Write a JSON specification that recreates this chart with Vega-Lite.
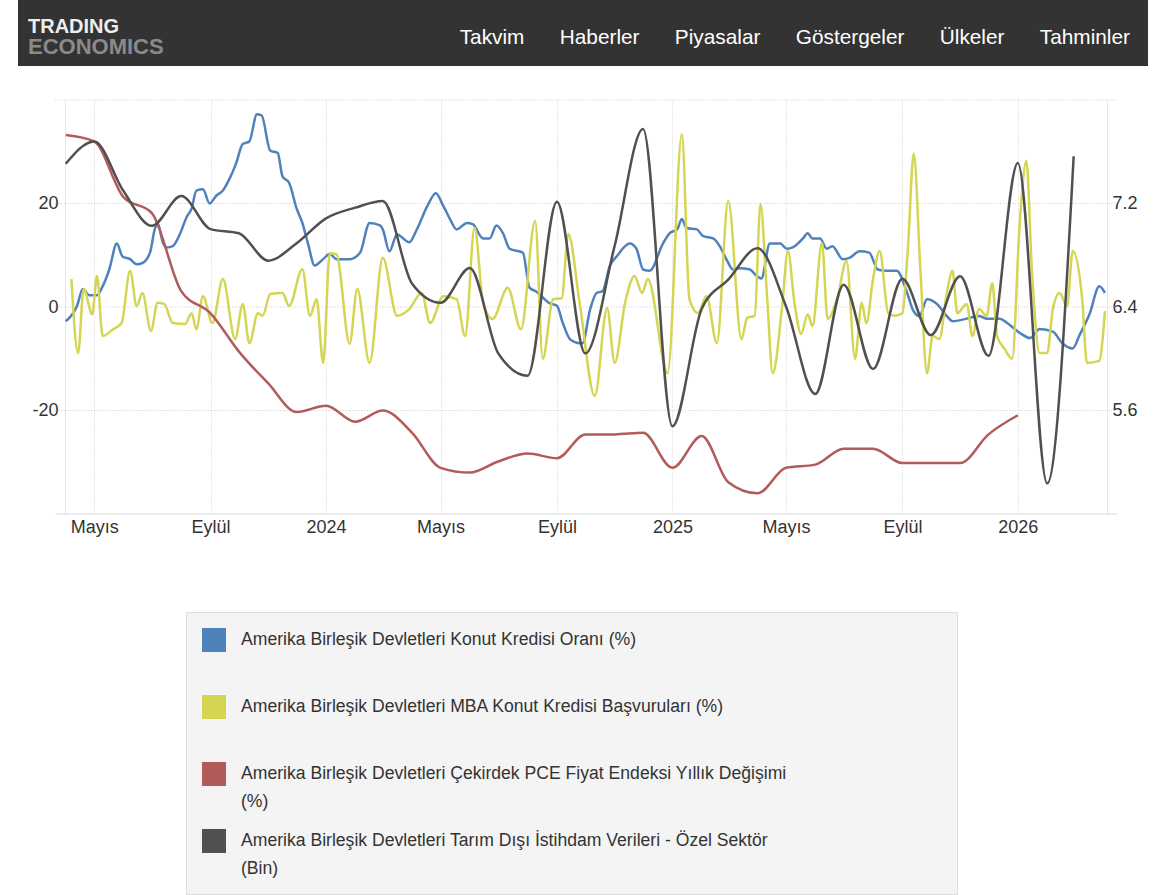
{
  "$schema": "https://vega.github.io/schema/vega-lite/v6.json",
  "background": "#ffffff",
  "padding": {"left": 18, "top": 0, "right": 0, "bottom": 0},
  "spacing": 32,
  "config": {
    "font": "Liberation Sans",
    "axis": {"labelFont": "Liberation Sans", "labelFontSize": 18, "labelColor": "#333333", "domain": false, "ticks": false, "tickSize": 0, "title": null, "gridColor": "#d0d0d0", "gridDash": [1, 2], "gridWidth": 1}
  },
  "datasets": {
    "rate": [
      {"date": "2023-04-01", "v": 6.29}, {"date": "2023-04-13", "v": 6.41}, {"date": "2023-04-19", "v": 6.54}, {"date": "2023-04-26", "v": 6.49},
      {"date": "2023-05-04", "v": 6.49}, {"date": "2023-05-10", "v": 6.56}, {"date": "2023-05-17", "v": 6.69}, {"date": "2023-05-25", "v": 6.89},
      {"date": "2023-05-31", "v": 6.79}, {"date": "2023-06-08", "v": 6.77}, {"date": "2023-06-15", "v": 6.73}, {"date": "2023-06-21", "v": 6.74},
      {"date": "2023-06-29", "v": 6.82}, {"date": "2023-07-04", "v": 7.0}, {"date": "2023-07-07", "v": 7.05}, {"date": "2023-07-13", "v": 6.89},
      {"date": "2023-07-17", "v": 6.86}, {"date": "2023-07-23", "v": 6.87}, {"date": "2023-07-31", "v": 6.97}, {"date": "2023-08-07", "v": 7.1},
      {"date": "2023-08-12", "v": 7.16}, {"date": "2023-08-17", "v": 7.3}, {"date": "2023-08-24", "v": 7.31}, {"date": "2023-08-31", "v": 7.2},
      {"date": "2023-09-07", "v": 7.26}, {"date": "2023-09-14", "v": 7.3}, {"date": "2023-09-21", "v": 7.39}, {"date": "2023-09-28", "v": 7.51},
      {"date": "2023-10-05", "v": 7.66}, {"date": "2023-10-12", "v": 7.68}, {"date": "2023-10-20", "v": 7.89}, {"date": "2023-10-25", "v": 7.88},
      {"date": "2023-11-03", "v": 7.61}, {"date": "2023-11-11", "v": 7.59}, {"date": "2023-11-16", "v": 7.41}, {"date": "2023-11-23", "v": 7.36},
      {"date": "2023-12-01", "v": 7.16}, {"date": "2023-12-07", "v": 7.05}, {"date": "2023-12-13", "v": 6.89}, {"date": "2023-12-20", "v": 6.72},
      {"date": "2023-12-29", "v": 6.77}, {"date": "2024-01-05", "v": 6.81}, {"date": "2024-01-12", "v": 6.77}, {"date": "2024-01-26", "v": 6.77},
      {"date": "2024-02-06", "v": 6.82}, {"date": "2024-02-16", "v": 7.05}, {"date": "2024-02-27", "v": 7.03}, {"date": "2024-03-01", "v": 7.0},
      {"date": "2024-03-08", "v": 6.83}, {"date": "2024-03-16", "v": 6.96}, {"date": "2024-03-29", "v": 6.9}, {"date": "2024-04-06", "v": 7.0},
      {"date": "2024-04-17", "v": 7.18}, {"date": "2024-04-26", "v": 7.28}, {"date": "2024-05-04", "v": 7.18}, {"date": "2024-05-11", "v": 7.08},
      {"date": "2024-05-18", "v": 7.0}, {"date": "2024-05-29", "v": 7.05}, {"date": "2024-06-04", "v": 7.04}, {"date": "2024-06-15", "v": 6.93},
      {"date": "2024-06-22", "v": 6.93}, {"date": "2024-06-29", "v": 7.03}, {"date": "2024-07-06", "v": 6.97}, {"date": "2024-07-13", "v": 6.85},
      {"date": "2024-07-27", "v": 6.82}, {"date": "2024-08-03", "v": 6.55}, {"date": "2024-08-10", "v": 6.52}, {"date": "2024-08-24", "v": 6.43},
      {"date": "2024-09-01", "v": 6.41}, {"date": "2024-09-07", "v": 6.28}, {"date": "2024-09-15", "v": 6.15}, {"date": "2024-09-25", "v": 6.12},
      {"date": "2024-09-28", "v": 6.12}, {"date": "2024-10-06", "v": 6.38}, {"date": "2024-10-13", "v": 6.51}, {"date": "2024-10-19", "v": 6.52},
      {"date": "2024-10-27", "v": 6.72}, {"date": "2024-11-03", "v": 6.79}, {"date": "2024-11-17", "v": 6.89}, {"date": "2024-11-24", "v": 6.85},
      {"date": "2024-12-01", "v": 6.69}, {"date": "2024-12-08", "v": 6.68}, {"date": "2024-12-22", "v": 6.89}, {"date": "2024-12-29", "v": 6.97},
      {"date": "2025-01-06", "v": 7.0}, {"date": "2025-01-11", "v": 7.08}, {"date": "2025-01-16", "v": 7.01}, {"date": "2025-01-27", "v": 7.0},
      {"date": "2025-02-02", "v": 6.95}, {"date": "2025-02-13", "v": 6.93}, {"date": "2025-02-20", "v": 6.87}, {"date": "2025-02-27", "v": 6.77},
      {"date": "2025-03-06", "v": 6.69}, {"date": "2025-03-13", "v": 6.7}, {"date": "2025-03-24", "v": 6.69}, {"date": "2025-03-31", "v": 6.64},
      {"date": "2025-04-05", "v": 6.62}, {"date": "2025-04-14", "v": 6.89}, {"date": "2025-04-25", "v": 6.89}, {"date": "2025-05-02", "v": 6.85},
      {"date": "2025-05-08", "v": 6.86}, {"date": "2025-05-19", "v": 6.93}, {"date": "2025-05-24", "v": 6.97}, {"date": "2025-05-29", "v": 6.93},
      {"date": "2025-06-06", "v": 6.93}, {"date": "2025-06-13", "v": 6.85}, {"date": "2025-06-19", "v": 6.87}, {"date": "2025-06-30", "v": 6.77},
      {"date": "2025-07-07", "v": 6.78}, {"date": "2025-07-18", "v": 6.83}, {"date": "2025-07-28", "v": 6.82}, {"date": "2025-08-06", "v": 6.69},
      {"date": "2025-08-15", "v": 6.68}, {"date": "2025-08-26", "v": 6.68}, {"date": "2025-09-06", "v": 6.51}, {"date": "2025-09-12", "v": 6.38},
      {"date": "2025-09-19", "v": 6.33}, {"date": "2025-09-27", "v": 6.46}, {"date": "2025-10-08", "v": 6.42}, {"date": "2025-10-18", "v": 6.33},
      {"date": "2025-10-24", "v": 6.29}, {"date": "2025-11-08", "v": 6.31}, {"date": "2025-11-21", "v": 6.33}, {"date": "2025-11-29", "v": 6.31},
      {"date": "2025-12-13", "v": 6.31}, {"date": "2025-12-20", "v": 6.28}, {"date": "2026-01-03", "v": 6.2}, {"date": "2026-01-14", "v": 6.16},
      {"date": "2026-01-24", "v": 6.23}, {"date": "2026-02-07", "v": 6.21}, {"date": "2026-02-17", "v": 6.12}, {"date": "2026-02-28", "v": 6.08},
      {"date": "2026-03-07", "v": 6.18}, {"date": "2026-03-18", "v": 6.35}, {"date": "2026-03-28", "v": 6.56}, {"date": "2026-04-03", "v": 6.51}
    ],
    "mba": [
      {"date": "2023-04-07", "v": 5.4}, {"date": "2023-04-14", "v": -8.9}, {"date": "2023-04-20", "v": 3.5}, {"date": "2023-04-29", "v": -1.4},
      {"date": "2023-05-04", "v": 6.0}, {"date": "2023-05-10", "v": -5.6}, {"date": "2023-05-21", "v": -4.3}, {"date": "2023-05-30", "v": -3.1},
      {"date": "2023-06-08", "v": 7.0}, {"date": "2023-06-15", "v": 0.2}, {"date": "2023-06-21", "v": 2.7}, {"date": "2023-06-30", "v": -4.6},
      {"date": "2023-07-07", "v": 0.8}, {"date": "2023-07-14", "v": 0.6}, {"date": "2023-07-23", "v": -3.1}, {"date": "2023-08-05", "v": -3.3},
      {"date": "2023-08-12", "v": -1.2}, {"date": "2023-08-17", "v": -4.3}, {"date": "2023-08-24", "v": 2.1}, {"date": "2023-09-03", "v": -3.1},
      {"date": "2023-09-14", "v": 5.4}, {"date": "2023-09-27", "v": -6.2}, {"date": "2023-10-05", "v": 0.6}, {"date": "2023-10-12", "v": -7.0},
      {"date": "2023-10-21", "v": -1.2}, {"date": "2023-10-26", "v": -1.7}, {"date": "2023-11-03", "v": 2.5}, {"date": "2023-11-16", "v": 2.7},
      {"date": "2023-11-23", "v": 0.2}, {"date": "2023-12-07", "v": 7.3}, {"date": "2023-12-15", "v": -1.7}, {"date": "2023-12-22", "v": 1.5},
      {"date": "2023-12-29", "v": -10.8}, {"date": "2024-01-05", "v": 10.4}, {"date": "2024-01-12", "v": 10.2}, {"date": "2024-01-26", "v": -7.1},
      {"date": "2024-02-03", "v": 3.5}, {"date": "2024-02-16", "v": -10.8}, {"date": "2024-03-01", "v": 9.5}, {"date": "2024-03-16", "v": -1.7},
      {"date": "2024-03-29", "v": -0.4}, {"date": "2024-04-11", "v": 2.7}, {"date": "2024-04-20", "v": -3.1}, {"date": "2024-05-04", "v": 2.1},
      {"date": "2024-05-18", "v": 1.5}, {"date": "2024-05-27", "v": -5.6}, {"date": "2024-06-06", "v": 15.3}, {"date": "2024-06-15", "v": 0.8},
      {"date": "2024-06-25", "v": -2.3}, {"date": "2024-07-11", "v": 3.7}, {"date": "2024-07-25", "v": -4.3}, {"date": "2024-08-09", "v": 16.6},
      {"date": "2024-08-17", "v": -10.0}, {"date": "2024-08-28", "v": 1.5}, {"date": "2024-09-06", "v": 1.7}, {"date": "2024-09-13", "v": 14.1},
      {"date": "2024-09-25", "v": 0.8}, {"date": "2024-10-11", "v": -17.2}, {"date": "2024-10-24", "v": -0.2}, {"date": "2024-11-01", "v": -10.8},
      {"date": "2024-11-12", "v": 0.8}, {"date": "2024-11-22", "v": 6.0}, {"date": "2024-11-30", "v": 2.7}, {"date": "2024-12-06", "v": 5.4},
      {"date": "2024-12-27", "v": -12.8}, {"date": "2025-01-11", "v": 33.4}, {"date": "2025-01-19", "v": 1.5}, {"date": "2025-01-28", "v": -1.2},
      {"date": "2025-02-06", "v": 2.1}, {"date": "2025-02-17", "v": -7.0}, {"date": "2025-03-01", "v": 20.5}, {"date": "2025-03-15", "v": -6.2},
      {"date": "2025-03-21", "v": -2.1}, {"date": "2025-03-29", "v": -1.7}, {"date": "2025-04-04", "v": 19.9}, {"date": "2025-04-11", "v": 2.1},
      {"date": "2025-04-17", "v": -12.8}, {"date": "2025-04-27", "v": 0.2}, {"date": "2025-05-03", "v": 10.8}, {"date": "2025-05-10", "v": 0.8},
      {"date": "2025-05-17", "v": -5.2}, {"date": "2025-05-24", "v": -1.4}, {"date": "2025-05-29", "v": -3.7}, {"date": "2025-06-08", "v": 12.4},
      {"date": "2025-06-14", "v": -2.3}, {"date": "2025-06-24", "v": 1.5}, {"date": "2025-07-04", "v": 8.9}, {"date": "2025-07-13", "v": -10.0},
      {"date": "2025-07-20", "v": 0.8}, {"date": "2025-07-25", "v": -3.1}, {"date": "2025-08-01", "v": 5.4}, {"date": "2025-08-08", "v": 10.8},
      {"date": "2025-08-17", "v": -1.2}, {"date": "2025-08-24", "v": -1.7}, {"date": "2025-09-01", "v": -1.2}, {"date": "2025-09-07", "v": 11.8},
      {"date": "2025-09-13", "v": 29.6}, {"date": "2025-09-20", "v": 7.3}, {"date": "2025-09-27", "v": -12.8}, {"date": "2025-10-03", "v": -5.6},
      {"date": "2025-10-10", "v": -6.2}, {"date": "2025-10-18", "v": 2.7}, {"date": "2025-10-24", "v": 7.0}, {"date": "2025-10-29", "v": -1.2},
      {"date": "2025-11-08", "v": 0.6}, {"date": "2025-11-14", "v": -5.6}, {"date": "2025-11-21", "v": -0.4}, {"date": "2025-11-29", "v": -1.7},
      {"date": "2025-12-05", "v": 4.6}, {"date": "2025-12-10", "v": -5.6}, {"date": "2025-12-18", "v": -8.1}, {"date": "2025-12-26", "v": -10.0},
      {"date": "2026-01-03", "v": 16.2}, {"date": "2026-01-10", "v": 28.2}, {"date": "2026-01-16", "v": 6.6}, {"date": "2026-01-24", "v": -8.9},
      {"date": "2026-02-01", "v": -8.9}, {"date": "2026-02-07", "v": -0.4}, {"date": "2026-02-14", "v": 2.7}, {"date": "2026-02-22", "v": 0.2},
      {"date": "2026-02-28", "v": 10.8}, {"date": "2026-03-10", "v": 1.5}, {"date": "2026-03-15", "v": -10.8}, {"date": "2026-03-28", "v": -10.4},
      {"date": "2026-04-03", "v": -0.8}
    ],
    "pce": [
      {"date": "2023-04-01", "v": 4.63}, {"date": "2023-05-01", "v": 4.59}, {"date": "2023-06-01", "v": 4.24}, {"date": "2023-07-01", "v": 4.14},
      {"date": "2023-08-01", "v": 3.65}, {"date": "2023-09-01", "v": 3.51}, {"date": "2023-10-01", "v": 3.27}, {"date": "2023-11-01", "v": 3.07},
      {"date": "2023-12-01", "v": 2.89}, {"date": "2024-01-01", "v": 2.93}, {"date": "2024-02-01", "v": 2.83}, {"date": "2024-03-01", "v": 2.9},
      {"date": "2024-04-01", "v": 2.76}, {"date": "2024-05-01", "v": 2.54}, {"date": "2024-06-01", "v": 2.51}, {"date": "2024-07-01", "v": 2.58},
      {"date": "2024-08-01", "v": 2.63}, {"date": "2024-09-01", "v": 2.6}, {"date": "2024-10-01", "v": 2.75}, {"date": "2024-11-01", "v": 2.75},
      {"date": "2024-12-01", "v": 2.76}, {"date": "2025-01-01", "v": 2.54}, {"date": "2025-02-01", "v": 2.74}, {"date": "2025-03-01", "v": 2.45},
      {"date": "2025-04-01", "v": 2.38}, {"date": "2025-05-01", "v": 2.54}, {"date": "2025-06-01", "v": 2.56}, {"date": "2025-07-01", "v": 2.66},
      {"date": "2025-08-01", "v": 2.66}, {"date": "2025-09-01", "v": 2.57}, {"date": "2025-10-01", "v": 2.57}, {"date": "2025-11-01", "v": 2.57},
      {"date": "2025-12-01", "v": 2.75}, {"date": "2026-01-01", "v": 2.87}
    ],
    "nfp": [
      {"date": "2023-04-01", "v": 273}, {"date": "2023-05-01", "v": 300}, {"date": "2023-06-01", "v": 240}, {"date": "2023-07-01", "v": 198},
      {"date": "2023-08-01", "v": 234}, {"date": "2023-09-01", "v": 194}, {"date": "2023-10-01", "v": 189}, {"date": "2023-11-01", "v": 156},
      {"date": "2023-12-01", "v": 177}, {"date": "2024-01-01", "v": 207}, {"date": "2024-02-01", "v": 220}, {"date": "2024-03-01", "v": 228},
      {"date": "2024-04-01", "v": 128}, {"date": "2024-05-01", "v": 105}, {"date": "2024-06-01", "v": 147}, {"date": "2024-07-01", "v": 44},
      {"date": "2024-08-01", "v": 17}, {"date": "2024-09-01", "v": 227}, {"date": "2024-10-01", "v": 44}, {"date": "2024-11-01", "v": 174},
      {"date": "2024-12-01", "v": 315}, {"date": "2025-01-01", "v": -44}, {"date": "2025-02-01", "v": 98}, {"date": "2025-03-01", "v": 133},
      {"date": "2025-04-01", "v": 171}, {"date": "2025-05-01", "v": 101}, {"date": "2025-06-01", "v": -5}, {"date": "2025-07-01", "v": 127},
      {"date": "2025-08-01", "v": 25}, {"date": "2025-09-01", "v": 134}, {"date": "2025-10-01", "v": 66}, {"date": "2025-11-01", "v": 137},
      {"date": "2025-12-01", "v": 41}, {"date": "2026-01-01", "v": 274}, {"date": "2026-02-01", "v": -113}, {"date": "2026-03-01", "v": 282}
    ],
    "gridlines": [
      {"g": -20, "date": "2023-03-21"}, {"g": -20, "date": "2026-04-16"},
      {"g": 0, "date": "2023-03-21"}, {"g": 0, "date": "2026-04-16"},
      {"g": 20, "date": "2023-03-21"}, {"g": 20, "date": "2026-04-16"},
      {"g": 40, "date": "2023-03-21"}, {"g": 40, "date": "2026-04-16"}
    ],
    "baseline": [{"g": -40, "date": "2023-03-21"}, {"g": -40, "date": "2026-04-16"}]
  },
  "vconcat": [
    {
      "width": 1130,
      "height": 66,
      "view": {"fill": "#333333", "stroke": null},
      "title": {
        "text": "TRADING",
        "subtitle": "\u2002ECONOMICS",
        "anchor": "start",
        "frame": "group",
        "orient": "top",
        "offset": -58,
        "dx": 10,
        "font": "Liberation Sans",
        "fontSize": 20,
        "fontWeight": "bold",
        "color": "#eeeeee",
        "subtitleFont": "Liberation Sans",
        "subtitleFontSize": 22,
        "subtitleFontWeight": "bold",
        "subtitleColor": "#8a8a8a",
        "subtitlePadding": 0
      },
      "data": {"values": [{"nav": "Takvim\u2002\u2002\u2002\u2009Haberler\u2002\u2002\u2002\u2009Piyasalar\u2002\u2002\u2002\u2009Göstergeler\u2002\u2002\u2002\u2009Ülkeler\u2002\u2002\u2002\u2009Tahminler"}]},
      "mark": {"type": "text", "align": "right", "baseline": "alphabetic", "dx": -18, "dy": 11, "fontSize": 20.8, "color": "#ffffff", "font": "Liberation Sans"},
      "encoding": {"text": {"field": "nav"}, "x": {"value": "width"}}
    },
    {
      "width": 1089,
      "height": 414,
      "view": {"stroke": null},
      "encoding": {
        "x": {
          "field": "date",
          "type": "temporal",
          "scale": {"type": "utc", "range": [47, 1089], "domain": [{"year": 2023, "month": 3, "date": 31, "hours": 5, "utc": true}, {"year": 2026, "month": 4, "date": 5, "hours": 5, "utc": true}]},
          "axis": {
            "values": [
              {"year": 2023, "month": 5, "date": 1, "utc": true}, {"year": 2023, "month": 9, "date": 1, "utc": true},
              {"year": 2024, "month": 1, "date": 1, "utc": true}, {"year": 2024, "month": 5, "date": 1, "utc": true},
              {"year": 2024, "month": 9, "date": 1, "utc": true}, {"year": 2025, "month": 1, "date": 1, "utc": true},
              {"year": 2025, "month": 5, "date": 1, "utc": true}, {"year": 2025, "month": 9, "date": 1, "utc": true},
              {"year": 2026, "month": 1, "date": 1, "utc": true}
            ],
            "labelExpr": "utcmonth(datum.value) == 0 ? utcFormat(datum.value, '%Y') : (utcmonth(datum.value) == 4 ? 'Mayıs' : 'Eylül')",
            "grid": true,
            "labelPadding": 4,
            "labelAlign": "center",
            "labelFlush": false,
            "labelOverlap": false
          }
        }
      },
      "layer": [
        {
          "data": {"name": "gridlines"},
          "mark": {"type": "line", "strokeDash": [1, 2], "color": "#c8c8c8", "strokeWidth": 1},
          "encoding": {
            "detail": {"field": "g", "type": "nominal"},
            "y": {"field": "g", "type": "quantitative", "scale": {"domain": [-40, 40], "nice": false, "zero": false}, "axis": null}
          }
        },
        {
          "data": {"name": "baseline"},
          "mark": {"type": "line", "color": "#d8d8d8", "strokeWidth": 1},
          "encoding": {
            "y": {"field": "g", "type": "quantitative", "scale": {"domain": [-40, 40], "nice": false, "zero": false}, "axis": null}
          }
        },
        {
          "data": {"name": "rate"},
          "mark": {"type": "line", "interpolate": "monotone", "strokeWidth": 2.5},
          "encoding": {
            "y": {"field": "v", "type": "quantitative", "scale": {"domain": [4.8, 8.0], "nice": false, "zero": false},
                  "axis": {"orient": "right", "values": [5.6, 6.4, 7.2], "format": ".1f", "grid": false, "labelPadding": 5, "domain": true, "domainColor": "#e6e6e6"}},
            "color": {
              "datum": "Amerika Birleşik Devletleri Konut Kredisi Oranı",
              "type": "nominal",
              "scale": {
                "domain": ["Amerika Birleşik Devletleri Konut Kredisi Oranı", "Amerika Birleşik Devletleri MBA Konut Kredisi Başvuruları", "Amerika Birleşik Devletleri Çekirdek PCE Fiyat Endeksi Yıllık Değişimi", "Amerika Birleşik Devletleri Tarım Dışı İstihdam Verileri - Özel Sektör"],
                "range": ["#4f81bd", "#d4d552", "#b25b5b", "#505050"]
              },
              "legend": {
                "orient": "none",
                "legendX": 168,
                "legendY": 612,
                "title": null,
                "symbolType": "square",
                "symbolSize": 576,
                "symbolStrokeWidth": 0,
                "labelFont": "Liberation Sans",
                "labelFontSize": 17.6,
                "labelColor": "#333333",
                "labelLimit": 1000,
                "labelOffset": 15,
                "rowPadding": 18,
                "padding": 16,
                "fillColor": "#f4f4f4",
                "strokeColor": "#dddddd",
                "labelExpr": "indexof(datum.label, 'PCE') >= 0 ? [datum.label + '\u2003\u2003\u2003\u2003\u2003\u2003\u2003\u2003\u2800', '(%)'] : (indexof(datum.label, 'Tarım') >= 0 ? [datum.label, '(Bin)'] : [datum.label + ' (%)', '\u2800'])",
                "encode": {
                  "symbols": {"update": {"fill": {"scale": "color", "field": "value"}, "stroke": {"value": "transparent"}, "opacity": {"value": 1}}},
                  "labels": {"update": {"lineHeight": {"value": 28}}}
                }
              }
            }
          }
        },
        {
          "data": {"name": "mba"},
          "mark": {"type": "line", "interpolate": "monotone", "strokeWidth": 2.5},
          "encoding": {
            "y": {"field": "v", "type": "quantitative", "scale": {"domain": [-40, 40], "nice": false, "zero": false},
                  "axis": {"orient": "left", "values": [-20, 0, 20], "grid": false, "offset": -47, "domain": true, "domainColor": "#e6e6e6", "labelPadding": 7, "labelExpr": "datum.value < 0 ? '-' + abs(datum.value) : datum.label"}},
            "color": {
              "datum": "Amerika Birleşik Devletleri MBA Konut Kredisi Başvuruları",
              "type": "nominal",
              "scale": {
                "domain": ["Amerika Birleşik Devletleri Konut Kredisi Oranı", "Amerika Birleşik Devletleri MBA Konut Kredisi Başvuruları", "Amerika Birleşik Devletleri Çekirdek PCE Fiyat Endeksi Yıllık Değişimi", "Amerika Birleşik Devletleri Tarım Dışı İstihdam Verileri - Özel Sektör"],
                "range": ["#4f81bd", "#d4d552", "#b25b5b", "#505050"]
              }
            }
          }
        },
        {
          "data": {"name": "pce"},
          "mark": {"type": "line", "interpolate": "monotone", "strokeWidth": 2.5},
          "encoding": {
            "y": {"field": "v", "type": "quantitative", "scale": {"domain": [2.25, 4.85], "nice": false, "zero": false}, "axis": null},
            "color": {
              "datum": "Amerika Birleşik Devletleri Çekirdek PCE Fiyat Endeksi Yıllık Değişimi",
              "type": "nominal",
              "scale": {
                "domain": ["Amerika Birleşik Devletleri Konut Kredisi Oranı", "Amerika Birleşik Devletleri MBA Konut Kredisi Başvuruları", "Amerika Birleşik Devletleri Çekirdek PCE Fiyat Endeksi Yıllık Değişimi", "Amerika Birleşik Devletleri Tarım Dışı İstihdam Verileri - Özel Sektör"],
                "range": ["#4f81bd", "#d4d552", "#b25b5b", "#505050"]
              }
            }
          }
        },
        {
          "data": {"name": "nfp"},
          "mark": {"type": "line", "interpolate": "monotone", "strokeWidth": 2.5},
          "encoding": {
            "y": {"field": "v", "type": "quantitative", "scale": {"domain": [-150, 350], "nice": false, "zero": false}, "axis": null},
            "color": {
              "datum": "Amerika Birleşik Devletleri Tarım Dışı İstihdam Verileri - Özel Sektör",
              "type": "nominal",
              "scale": {
                "domain": ["Amerika Birleşik Devletleri Konut Kredisi Oranı", "Amerika Birleşik Devletleri MBA Konut Kredisi Başvuruları", "Amerika Birleşik Devletleri Çekirdek PCE Fiyat Endeksi Yıllık Değişimi", "Amerika Birleşik Devletleri Tarım Dışı İstihdam Verileri - Özel Sektör"],
                "range": ["#4f81bd", "#d4d552", "#b25b5b", "#505050"]
              }
            }
          }
        }
      ],
      "resolve": {"scale": {"y": "independent"}, "axis": {"y": "independent"}}
    }
  ]
}
